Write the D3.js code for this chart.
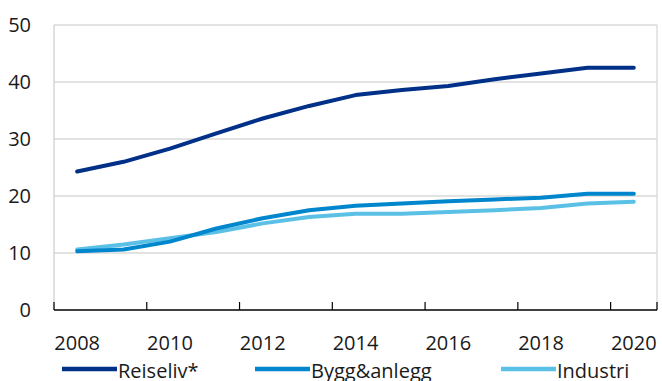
<!DOCTYPE html>
<html><head><meta charset="utf-8">
<script src="https://cdn.jsdelivr.net/npm/d3@7"></script>
<style>body{margin:0;background:#fff}svg{display:block}text{font-family:"Open Sans",sans-serif;fill:#1a1a1a}</style>
</head><body><svg id="c" width="662" height="381"></svg>
<script>
const years = ["2008","2009","2010","2011","2012","2013","2014","2015","2016","2017","2018","2019","2020"];
const reiseliv = [24.3, 26.0, 28.3, 31.0, 33.6, 35.8, 37.7, 38.6, 39.3, 40.5, 41.5, 42.5, 42.5];
const bygg = [10.3, 10.6, 12.0, 14.3, 16.1, 17.5, 18.3, 18.7, 19.1, 19.4, 19.7, 20.4, 20.4];
const industri = [10.6, 11.5, 12.6, 13.7, 15.2, 16.3, 16.9, 16.9, 17.2, 17.5, 17.9, 18.7, 19.0];
const seriesNames = ["Reiseliv*", "Bygg&anlegg", "Industri"];
const colors = ["#003087", "#0086CD", "#5BC0E6"];
const yTicks = [0, 10, 20, 30, 40, 50];

const svg = d3.select("#c");
const L = 54, R = 657, T = 25, B = 310;
const x = d3.scaleBand().domain(years).range([L, R]).padding(0);
const y = d3.scaleLinear().domain([0, 50]).range([B, T]);
const cx = d => x(d) + x.bandwidth() / 2;

// gridlines
svg.append("g").selectAll("line").data(yTicks.filter(v => v > 0)).join("line")
  .attr("x1", L).attr("x2", R).attr("y1", d => y(d)).attr("y2", d => y(d))
  .attr("stroke", "#d9d9d9").attr("stroke-width", 1.3);
// left and right borders
svg.append("line").attr("x1", L).attr("x2", L).attr("y1", T).attr("y2", B).attr("stroke", "#d0d0d0").attr("stroke-width", 1.3);
svg.append("line").attr("x1", R).attr("x2", R).attr("y1", T).attr("y2", B).attr("stroke", "#d9d9d9").attr("stroke-width", 1.3);

// y labels
svg.append("g").selectAll("text").data(yTicks).join("text")
  .attr("x", 31).attr("y", d => y(d)).attr("dy", "0.36em")
  .attr("text-anchor", "end").style("font-size", "20px").text(d => d);

// x axis
const xa = svg.append("g");
xa.append("line").attr("x1", L).attr("x2", R).attr("y1", B).attr("y2", B).attr("stroke", "#000").attr("stroke-width", 1.3);
const tickPos = years.filter((d, i) => i % 2 === 0).map(d => x(d)).concat([R]);
xa.selectAll("line.t").data(tickPos).join("line").attr("class", "t")
  .attr("x1", d => d).attr("x2", d => d).attr("y1", B).attr("y2", B - 8)
  .attr("stroke", "#000").attr("stroke-width", 1.2);
xa.selectAll("text").data(years.filter((d, i) => i % 2 === 0)).join("text")
  .attr("x", d => cx(d)).attr("y", 350).attr("text-anchor", "middle")
  .style("font-size", "20px").text(d => d);

// lines
const data = [reiseliv, bygg, industri];
const line = d3.line().x((d, i) => cx(years[i])).y(d => y(d));
svg.append("g").selectAll("path").data(data.slice().reverse()).join("path")
  .attr("d", d => line(d)).attr("fill", "none")
  .attr("stroke", (d, i) => colors[2 - i]).attr("stroke-width", 4)
  .attr("stroke-linecap", "round").attr("stroke-linejoin", "round");

// legend
const legX = [62, 255, 501];
const lg = svg.append("g").selectAll("g").data(seriesNames).join("g");
lg.append("line").attr("x1", (d, i) => legX[i]).attr("x2", (d, i) => legX[i] + 55)
  .attr("y1", 369).attr("y2", 369).attr("stroke", (d, i) => colors[i]).attr("stroke-width", 4.5);
lg.append("text").attr("x", (d, i) => legX[i] + 56).attr("y", 378)
  .style("font-size", "20px").text(d => d);
</script></body></html>
